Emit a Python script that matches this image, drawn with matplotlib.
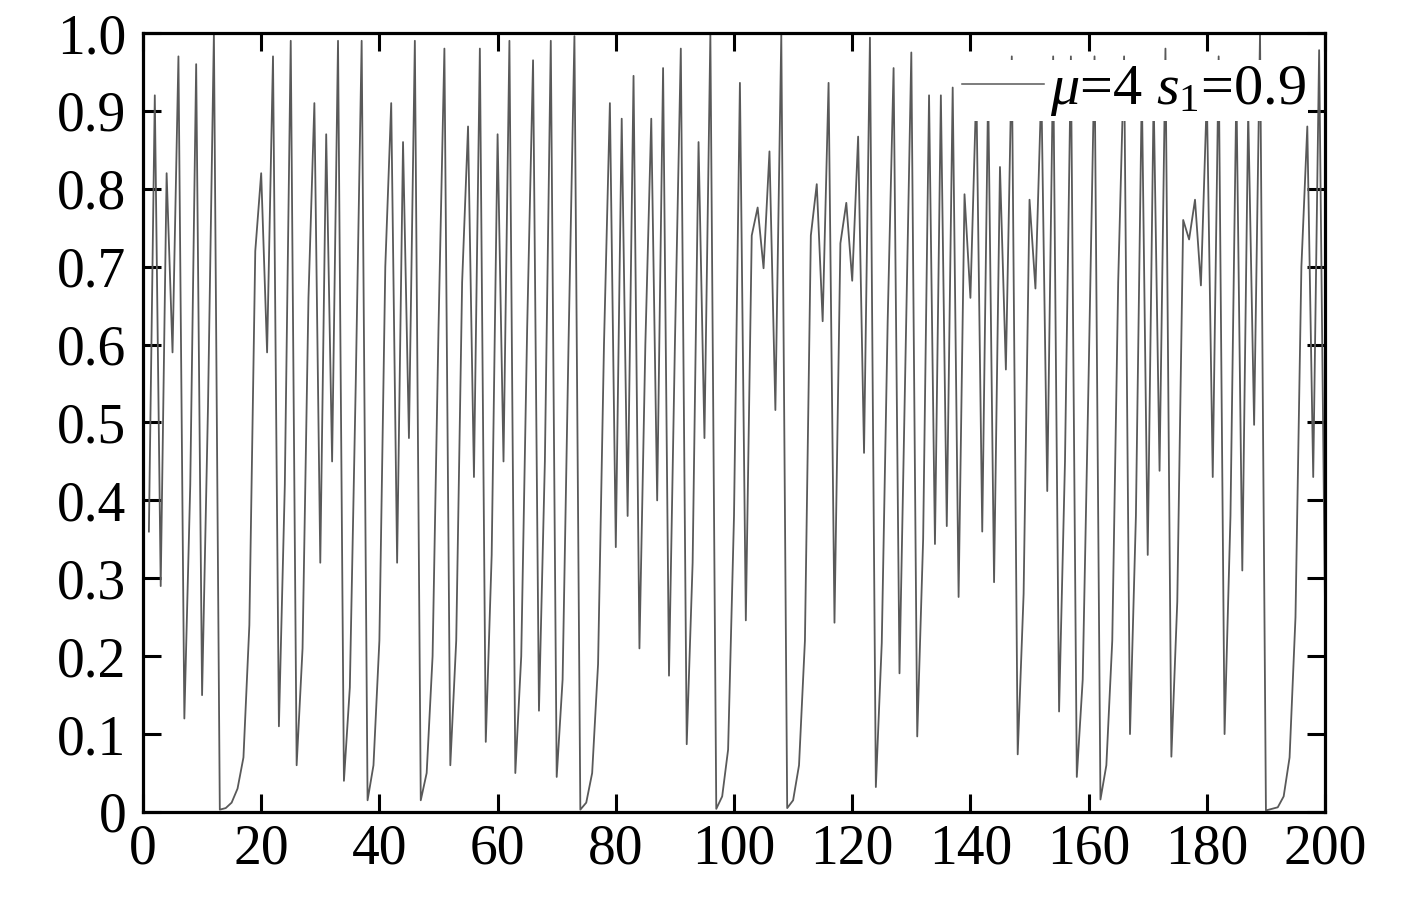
import numpy as np
import matplotlib
import matplotlib.pyplot as plt
from matplotlib.ticker import FuncFormatter

matplotlib.use('Agg')

plt.rcParams['font.family'] = ['Liberation Serif', 'DejaVu Serif']
plt.rcParams['mathtext.fontset'] = 'custom'
plt.rcParams['mathtext.rm'] = 'Liberation Serif'
plt.rcParams['mathtext.it'] = 'Liberation Serif:italic'

# iteration index (1..200) and values
steps = list(range(1, 201))
values = [
    0.36, 0.92, 0.29, 0.82, 0.59, 0.97, 0.12, 0.42, 0.96, 0.15,      # 1-10
    0.52, 1.00, 0.003, 0.005, 0.012, 0.03, 0.07, 0.24, 0.72, 0.82,   # 11-20
    0.59, 0.97, 0.11, 0.42, 0.99, 0.06, 0.21, 0.66, 0.91, 0.32,      # 21-30
    0.87, 0.45, 0.99, 0.04, 0.16, 0.55, 0.99, 0.015, 0.06, 0.22,     # 31-40
    0.70, 0.91, 0.32, 0.86, 0.48, 0.99, 0.015, 0.05, 0.20, 0.62,     # 41-50
    0.98, 0.06, 0.22, 0.68, 0.88, 0.43, 0.98, 0.09, 0.33, 0.87,      # 51-60
    0.45, 0.99, 0.05, 0.20, 0.62, 0.965, 0.13, 0.45, 0.99, 0.045,    # 61-70
    0.17, 0.60, 0.996, 0.003, 0.012, 0.05, 0.19, 0.60, 0.91, 0.34,   # 71-80
    0.89, 0.38, 0.945, 0.21, 0.60, 0.89, 0.40, 0.955, 0.175, 0.60,   # 81-90
    0.98, 0.087, 0.32, 0.86, 0.48, 0.999, 0.004, 0.02, 0.08, 0.38,   # 91-100
    0.936, 0.246, 0.74, 0.776, 0.698, 0.848, 0.516, 0.998, 0.005, 0.015,  # 101-110
    0.06, 0.22, 0.74, 0.806, 0.63, 0.936, 0.243, 0.73, 0.782, 0.682,     # 111-120
    0.867, 0.461, 0.994, 0.032, 0.217, 0.63, 0.955, 0.178, 0.58, 0.975,  # 121-130
    0.097, 0.35, 0.92, 0.344, 0.92, 0.367, 0.93, 0.276, 0.793, 0.66,     # 131-140
    0.93, 0.36, 0.93, 0.295, 0.828, 0.568, 0.97, 0.074, 0.28, 0.786,     # 141-150
    0.672, 0.93, 0.412, 0.97, 0.129, 0.45, 0.97, 0.045, 0.17, 0.56,      # 151-160
    0.97, 0.016, 0.06, 0.22, 0.68, 0.97, 0.10, 0.38, 0.93, 0.33,         # 161-170
    0.92, 0.438, 0.98, 0.071, 0.27, 0.76, 0.735, 0.786, 0.676, 0.92,     # 171-180
    0.43, 0.97, 0.10, 0.38, 0.93, 0.31, 0.90, 0.497, 1.00, 0.002,        # 181-190
    0.004, 0.006, 0.02, 0.07, 0.25, 0.70, 0.88, 0.43, 0.978, 0.26,       # 191-200
]

xticks = list(range(0, 201, 20))
yticks = [round(0.1 * i, 1) for i in range(11)]

fig = plt.figure(figsize=(14.17, 9.02), dpi=100)
ax = fig.add_axes([0.1009, 0.0998, 0.8342, 0.8636])

ax.plot(steps, values, color='#595959', linewidth=1.3, label=r'$\mu$=4 $s_{\rm 1}$=0.9')

ax.set_xlim(0, 200)
ax.set_ylim(0, 1.0)
ax.set_xticks(xticks)
ax.set_yticks(yticks)
ax.yaxis.set_major_formatter(FuncFormatter(lambda v, p: '0' if v == 0 else f'{v:.1f}'))

for s in ax.spines.values():
    s.set_linewidth(2.3)
ax.tick_params(direction='in', length=13, width=2.2, labelsize=40,
               top=True, right=True)
ax.tick_params(axis='y', pad=12)
ax.tick_params(axis='x', pad=8)

# white legend box hides the lines behind it, as in the original
leg = ax.legend(loc='upper right', bbox_to_anchor=(0.986, 0.965), borderaxespad=0,
                fontsize=42, frameon=True, fancybox=False, framealpha=1,
                facecolor='white', edgecolor='none', handlelength=1.4,
                handletextpad=0.1, borderpad=0.05)
for h in leg.get_lines():
    h.set_linewidth(1.1)

plt.savefig('out.png', dpi=100)
plt.close(fig)
